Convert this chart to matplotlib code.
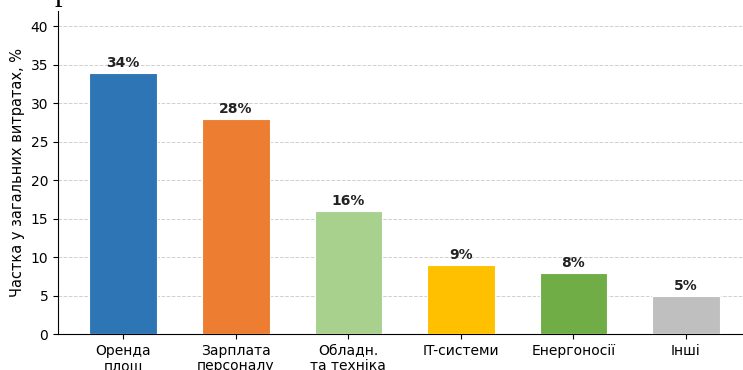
import matplotlib
matplotlib.use("Agg")
import matplotlib.pyplot as plt
import numpy as np

categories = ["Оренда\nплощ", "Зарплата\nперсоналу", "Обладн.\nта техніка",
              "IT-системи", "Енергоносії", "Інші"]
shares = [34, 28, 16, 9, 8, 5]
colors = ["#2E75B6", "#ED7D31", "#A9D18E", "#FFC000", "#70AD47", "#BFBFBF"]

fig = plt.figure(figsize=(7.43, 3.70), dpi=100)
ax = fig.add_axes([0.078, 0.097, 0.933, 0.873])

x = np.arange(len(categories))
bars = ax.bar(x, shares, width=0.6, color=colors, edgecolor="white", linewidth=0.8, zorder=3)

for b, v in zip(bars, shares):
    ax.annotate(f"{v}%", (b.get_x() + b.get_width() / 2, v),
                xytext=(0, 2), textcoords="offset points",
                ha="center", va="bottom", fontsize=10, fontweight="bold", color="#222222")

ax.set_xticks(x)
ax.set_xticklabels(categories, fontsize=10, linespacing=1.15)
ax.set_ylim(0, 42)
ax.set_yticks(range(0, 41, 5))
ax.tick_params(axis="y", labelsize=10)
ax.set_ylabel("Частка у загальних витратах, %", fontsize=10.5)
ax.yaxis.grid(True, linestyle="--", color="#d0d0d0", linewidth=0.7, zorder=0)
ax.spines["top"].set_visible(False)
ax.spines["right"].set_visible(False)

# heading above the figure, only its descender falls inside the canvas
fig.text(0.074, 1.0, "р", family="Liberation Serif", fontsize=22, va="baseline", ha="left")

fig.savefig("out.png", dpi=100)
